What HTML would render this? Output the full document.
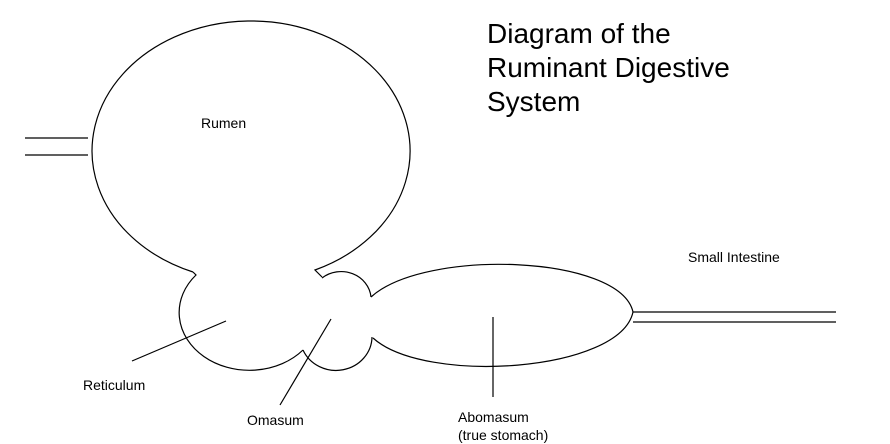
<!DOCTYPE html>
<html><head><style>
body{margin:0;background:#fff;width:890px;height:430px;overflow:hidden;position:relative;font-family:"Liberation Sans",Arial,sans-serif}
.t{position:absolute;color:#000;white-space:nowrap}
</style></head><body>
<svg width="890" height="430" style="position:absolute;left:0;top:0" fill="none" stroke="#000" stroke-width="1.2">
<path d="M193,272 A159 130 0 1 1 315 270 L322,277"/>
<path d="M193,272 L196,275 A56 46 0 1 0 303 350"/>
<path d="M303,350 A36 34 0 0 0 372 337"/>
<path d="M322,278 A30 28 0 0 1 371 297"/>
<path d="M371,297 C425,248 620,255 633,312"/>
<path d="M633,312 C620,372 425,385 373,338"/>
<line x1="25" y1="138" x2="88" y2="138"/>
<line x1="25" y1="155" x2="88" y2="155"/>
<line x1="633" y1="312" x2="836" y2="312"/>
<line x1="633" y1="322" x2="836" y2="322"/>
<line x1="132" y1="361" x2="226" y2="321"/>
<line x1="280" y1="405" x2="331" y2="319"/>
<line x1="493" y1="317" x2="493" y2="397"/>
</svg>
<div class="t" style="left:487px;top:17px;font-size:28px;line-height:34px">Diagram of the<br>Ruminant Digestive<br>System</div>
<div class="t" style="left:201px;top:115px;font-size:14px">Rumen</div>
<div class="t" style="left:688px;top:249px;font-size:14px">Small Intestine</div>
<div class="t" style="left:83px;top:377px;font-size:14px">Reticulum</div>
<div class="t" style="left:247px;top:412px;font-size:14px">Omasum</div>
<div class="t" style="left:458px;top:408px;font-size:14px;line-height:18px">Abomasum<br>(true stomach)</div>
</body></html>
